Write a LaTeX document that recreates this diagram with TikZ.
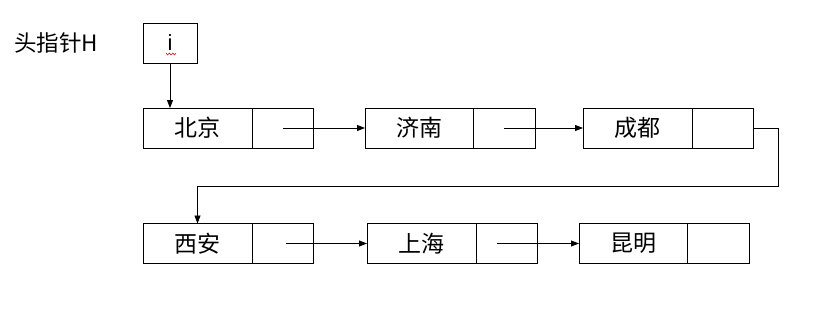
\documentclass[tikz,border=0pt]{standalone}
\usepackage{fontspec}
\setmainfont{Liberation Sans}
\newfontfamily\cjk{Noto Sans CJK SC}
\usetikzlibrary{arrows.meta}
\begin{document}
\begin{tikzpicture}[x=1pt,y=-1pt,
  cell/.style={draw, line width=0.8pt, minimum height=40pt, inner sep=0pt, outer sep=0pt, font=\cjk\fontsize{23}{25}\selectfont},
  link/.style={line width=0.8pt, -{Triangle[length=8pt,width=6pt]}},
  lbl/.style={inner sep=0pt, font=\cjk\fontsize{22.5}{25}\selectfont}]
\useasboundingbox (0,0) rectangle (821,321);
\node[lbl, anchor=west] (title) at (14,43) {头指针H};
\node[cell, minimum width=54pt, font=\fontsize{22}{24}\selectfont] (head) at (170,43) {i};
\draw[red!80!black, line width=0.5pt] (166,53) -- (167.7,55) -- (169.4,53) -- (171.1,55) -- (172.8,53) -- (174.5,55) -- (176,53);
% row 1
\node[cell, minimum width=109pt] (bj) at (197.5,128) {北京};
\node[cell, minimum width=61pt] (bjp) at (282.5,128) {};
\node[cell, minimum width=108pt] (jn) at (419,128) {济南};
\node[cell, minimum width=62pt] (jnp) at (504,128) {};
\node[cell, minimum width=109pt] (cd) at (637.5,128) {成都};
\node[cell, minimum width=61pt] (cdp) at (722.5,128) {};
% row 2
\node[cell, minimum width=109pt] (xa) at (197.5,243.5) {西安};
\node[cell, minimum width=61pt] (xap) at (282.5,243.5) {};
\node[cell, minimum width=109pt] (sh) at (421.5,243.5) {上海};
\node[cell, minimum width=61pt] (shp) at (506.5,243.5) {};
\node[cell, minimum width=108pt] (km) at (633,243.5) {昆明};
\node[cell, minimum width=62pt] (kmp) at (718,243.5) {};
\coordinate (r1) at (778,128);
\coordinate (r2) at (778,186);
\coordinate (r3) at (197.5,186);
% links
\draw[link] (head.south) -- (head.south |- bj.north);
\draw[link] (bjp.center) -- (jn.west);
\draw[link] (jnp.center) -- (cd.west);
\draw[link] (cdp.east) -- (r1) -- (r2) -- (r3) -- (xa.north);
\draw[link] ([xshift=3pt]xap.center) -- (sh.west);
\draw[link] ([xshift=-10pt]shp.center) -- (km.west);
\end{tikzpicture}
\end{document}
